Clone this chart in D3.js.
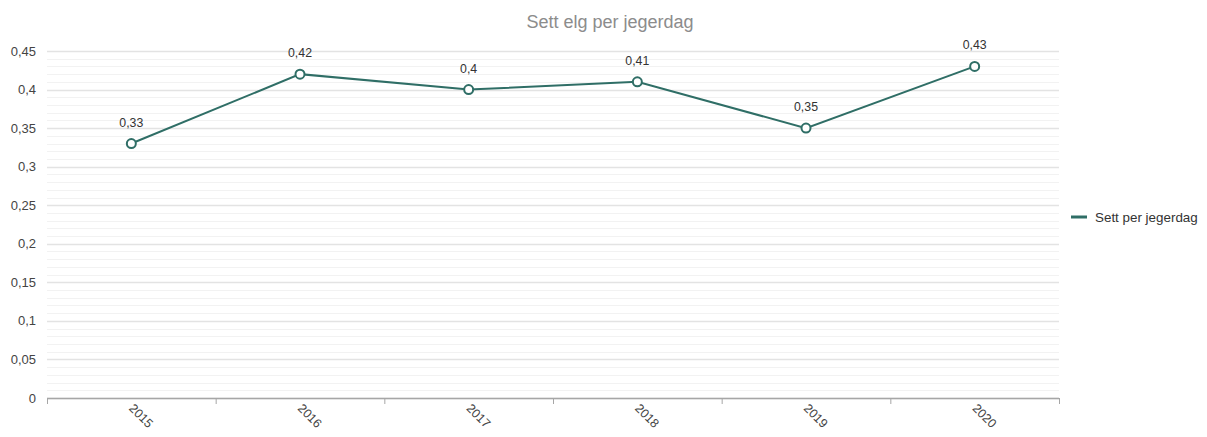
<!DOCTYPE html>
<html>
<head>
<meta charset="utf-8">
<script src="https://cdn.jsdelivr.net/npm/d3@7"></script>
<style>
  body { margin: 0; background: #fff; font-family: "Liberation Sans", Arial, sans-serif; }
  svg text { font-family: "Liberation Sans", Arial, sans-serif; }
</style>
</head>
<body>
<svg id="chart" width="1207" height="437"></svg>
<script>
// data
const years = ['2015', '2016', '2017', '2018', '2019', '2020'];
const settPerJegerdag = [0.33, 0.42, 0.4, 0.41, 0.35, 0.43];
const yTicks = [0, 0.05, 0.1, 0.15, 0.2, 0.25, 0.3, 0.35, 0.4, 0.45];
const minorTicks = d3.range(0, 46).map(i => i / 100);
const seriesName = 'Sett per jegerdag';
const title = 'Sett elg per jegerdag';

const lineColor = '#2f6e66';
const fmt = v => String(v).replace('.', ',');

const margin = { top: 51, left: 47, right: 148, bottom: 39 };
const W = 1207, H = 437;
const innerW = W - margin.left - margin.right;
const innerH = H - margin.top - margin.bottom;

const svg = d3.select('#chart');

svg.append('text')
  .attr('x', 610).attr('y', 28)
  .attr('text-anchor', 'middle')
  .attr('fill', '#8c8c8c')
  .style('font-size', '18px')
  .text(title);

const g = svg.append('g').attr('transform', `translate(${margin.left},${margin.top})`);

const x = d3.scaleBand().domain(years).range([0, innerW]);
const y = d3.scaleLinear().domain([0, 0.45]).range([innerH, 0]);

// grid lines
g.append('g').selectAll('line.minor')
  .data(minorTicks)
  .join('line')
  .attr('x1', 0).attr('x2', innerW)
  .attr('y1', d => Math.round(y(d)) + 0.5).attr('y2', d => Math.round(y(d)) + 0.5)
  .attr('stroke', '#f2f2f2');

g.append('g').selectAll('line.major')
  .data(yTicks)
  .join('line')
  .attr('x1', 0).attr('x2', innerW)
  .attr('y1', d => Math.round(y(d)) + 0.5).attr('y2', d => Math.round(y(d)) + 0.5)
  .attr('stroke', '#e3e3e3')
  .attr('stroke-width', 1.5);

// y labels
g.append('g').selectAll('text')
  .data(yTicks)
  .join('text')
  .attr('x', -11).attr('y', d => y(d) + 4.5)
  .attr('text-anchor', 'end')
  .attr('fill', '#444')
  .style('font-size', '13px')
  .text(fmt);

// x axis
const xAxis = g.append('g').attr('transform', `translate(0,${innerH})`);
xAxis.append('line')
  .attr('x1', 0).attr('x2', innerW)
  .attr('y1', 0.5).attr('y2', 0.5)
  .attr('stroke', '#a6a6a6').attr('stroke-width', 1.5);
const bounds = years.map(d => x(d)).concat([innerW]);
xAxis.selectAll('line.tick')
  .data(bounds)
  .join('line')
  .attr('x1', d => d + 0.5).attr('x2', d => d + 0.5)
  .attr('y1', 0).attr('y2', 6)
  .attr('stroke', '#a6a6a6');
xAxis.selectAll('text')
  .data(years)
  .join('text')
  .attr('transform', d => `translate(${x(d) + x.bandwidth() / 2 - 3},${11}) rotate(45)`)
  .attr('fill', '#444')
  .style('font-size', '12.5px')
  .text(d => d);

// line
const cx = d => x(d) + x.bandwidth() / 2;
const line = d3.line()
  .x((d, i) => cx(years[i]))
  .y(d => y(d));

g.append('path')
  .datum(settPerJegerdag)
  .attr('d', line)
  .attr('fill', 'none')
  .attr('stroke', lineColor)
  .attr('stroke-width', 2);

g.append('g').selectAll('circle')
  .data(settPerJegerdag)
  .join('circle')
  .attr('cx', (d, i) => cx(years[i]))
  .attr('cy', d => y(d))
  .attr('r', 4.5)
  .attr('fill', '#fff')
  .attr('stroke', lineColor)
  .attr('stroke-width', 2);

g.append('g').selectAll('text')
  .data(settPerJegerdag)
  .join('text')
  .attr('x', (d, i) => cx(years[i]))
  .attr('y', d => y(d) - 17)
  .attr('text-anchor', 'middle')
  .attr('fill', '#333')
  .style('font-size', '12.3px')
  .text(fmt);

// legend
const legend = svg.append('g').attr('transform', 'translate(1071,217)');
legend.append('line')
  .attr('x1', 0).attr('x2', 16)
  .attr('y1', 0).attr('y2', 0)
  .attr('stroke', lineColor).attr('stroke-width', 3);
legend.append('text')
  .attr('x', 24).attr('y', 4.5)
  .attr('fill', '#333')
  .style('font-size', '13.4px')
  .text(seriesName);
</script>
</body>
</html>
